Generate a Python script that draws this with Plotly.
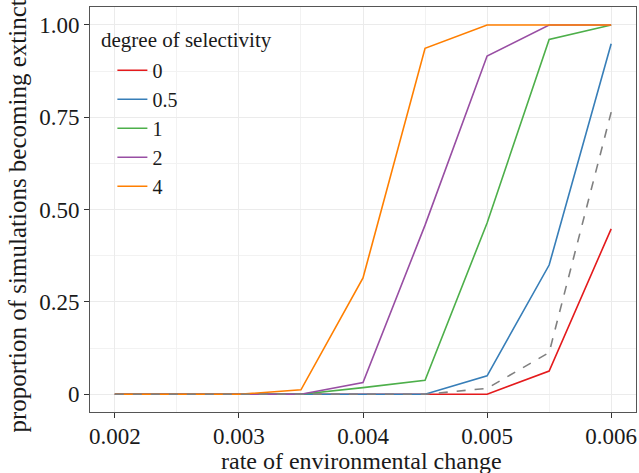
import plotly.graph_objects as go

# rate of environmental change (x) and extinction proportions per selectivity degree
rate = [0.002, 0.0025, 0.003, 0.0035, 0.004, 0.0045, 0.005, 0.0055, 0.006]

sel_0 = [0, 0, 0, 0, 0, 0, 0, 0.063, 0.448]
sel_05 = [0, 0, 0, 0, 0, 0, 0.05, 0.35, 0.949]
sel_1 = [0, 0, 0, 0, 0.018, 0.038, 0.464, 0.961, 1.0]
sel_2 = [0, 0, 0, 0, 0.032, 0.458, 0.916, 1.0, 1.0]
sel_4 = [0, 0, 0, 0.012, 0.315, 0.937, 1.0, 1.0, 1.0]
reference = [0, 0, 0, 0, 0, 0, 0.016, 0.113, 0.764]

series = [
    ("0", sel_0, "#E41A1C"),
    ("0.5", sel_05, "#377EB8"),
    ("1", sel_1, "#4DAF4A"),
    ("2", sel_2, "#984EA3"),
    ("4", sel_4, "#FF7F00"),
]

y_ticks = [0, 0.25, 0.5, 0.75, 1.0]
y_labels = ["0", "0.25", "0.50", "0.75", "1.00"]
x_ticks = [0.002, 0.003, 0.004, 0.005, 0.006]
x_labels = ["0.002", "0.003", "0.004", "0.005", "0.006"]

FONT = "Liberation Serif, DejaVu Serif, serif"
INK = "#1a1a1a"

fig = go.Figure()

for name, vals, col in series:
    fig.add_trace(go.Scatter(
        x=rate, y=vals, mode="lines", name=name,
        line=dict(color=col, width=1.6),
    ))

# grey dashed reference line, not in the legend
fig.add_trace(go.Scatter(
    x=rate, y=reference, mode="lines", showlegend=False,
    line=dict(color="#808080", width=1.6, dash="dash"),
))

axis_common = dict(
    automargin=False,
    showgrid=True, gridcolor="#ebebeb", gridwidth=1.2,
    showline=True, mirror=True, linecolor="#555555", linewidth=1,
    ticks="outside", ticklen=5, tickcolor="#333333", tickwidth=1,
    zeroline=False,
    tickfont=dict(family=FONT, size=23, color=INK),
)

fig.update_xaxes(
    range=[0.0018, 0.0062],
    tickvals=x_ticks, ticktext=x_labels, ticklabelstandoff=-2,
    minor=dict(dtick=0.0005, tick0=0.002, showgrid=True, gridcolor="#f2f2f2", gridwidth=0.8),
    **axis_common,
)
fig.update_yaxes(
    range=[-0.048, 1.0487],
    tickvals=y_ticks, ticktext=y_labels,
    minor=dict(dtick=0.125, tick0=0, showgrid=True, gridcolor="#f2f2f2", gridwidth=0.8),
    **axis_common,
)

# axis titles as annotations so they can be placed like the original
fig.add_annotation(
    text="rate of environmental change", xref="paper", yref="paper",
    x=0.497, y=-0.121, xanchor="center", yanchor="middle", showarrow=False,
    font=dict(family=FONT, size=24, color=INK),
)
fig.add_annotation(
    text="proportion of simulations becoming extinct", xref="paper", yref="paper",
    x=-0.1327, y=0.484, xanchor="center", yanchor="middle", showarrow=False,
    textangle=-90, font=dict(family=FONT, size=25, color=INK),
)

# legend title drawn separately so the entries can be indented below it
fig.add_annotation(
    text="degree of selectivity", xref="paper", yref="paper",
    x=0.017, y=0.918, xanchor="left", yanchor="middle", showarrow=False,
    font=dict(family=FONT, size=21, color=INK),
)

fig.update_layout(
    width=639, height=473,
    margin=dict(l=90, r=3, t=7, b=61),
    paper_bgcolor="white", plot_bgcolor="white",
    font=dict(family=FONT, size=21, color=INK),
    legend=dict(
        font=dict(family=FONT, size=20, color=INK),
        x=0.041, y=0.892, xanchor="left", yanchor="top",
        bgcolor="rgba(0,0,0,0)",
    ),
)

# drop the default page margin so the figure sits at the window's corner
fig.write_html("out.html", config={"displayModeBar": False},
               post_script="document.body.style.margin='0';")
